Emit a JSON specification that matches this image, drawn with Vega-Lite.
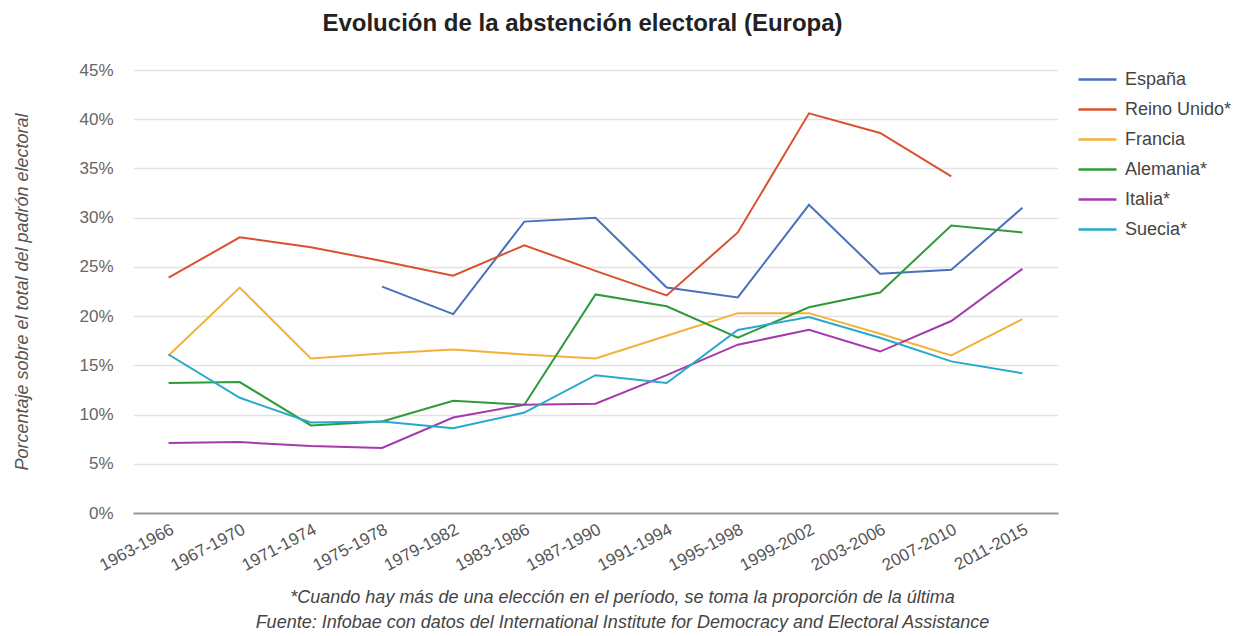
{
  "$schema": "https://vega.github.io/schema/vega-lite/v6.json",
  "autosize": "none",
  "width": 925,
  "height": 443,
  "padding": {"left": 133, "top": 70, "right": 190, "bottom": 123},
  "background": "white",
  "title": {
    "text": "Evolución de la abstención electoral (Europa)",
    "fontSize": 24,
    "fontWeight": "bold",
    "font": "Liberation Sans",
    "color": "#222222",
    "anchor": "middle",
    "dx": -13,
    "offset": 23
  },
  "data": {
    "values": [
      {"periodo": "1975-1978", "pais": "España", "valor": 23.0},
      {"periodo": "1979-1982", "pais": "España", "valor": 20.2},
      {"periodo": "1983-1986", "pais": "España", "valor": 29.6},
      {"periodo": "1987-1990", "pais": "España", "valor": 30.0},
      {"periodo": "1991-1994", "pais": "España", "valor": 22.9},
      {"periodo": "1995-1998", "pais": "España", "valor": 21.9},
      {"periodo": "1999-2002", "pais": "España", "valor": 31.3},
      {"periodo": "2003-2006", "pais": "España", "valor": 24.3},
      {"periodo": "2007-2010", "pais": "España", "valor": 24.7},
      {"periodo": "2011-2015", "pais": "España", "valor": 31.0},

      {"periodo": "1963-1966", "pais": "Reino Unido*", "valor": 23.9},
      {"periodo": "1967-1970", "pais": "Reino Unido*", "valor": 28.0},
      {"periodo": "1971-1974", "pais": "Reino Unido*", "valor": 27.0},
      {"periodo": "1975-1978", "pais": "Reino Unido*", "valor": 25.6},
      {"periodo": "1979-1982", "pais": "Reino Unido*", "valor": 24.1},
      {"periodo": "1983-1986", "pais": "Reino Unido*", "valor": 27.2},
      {"periodo": "1987-1990", "pais": "Reino Unido*", "valor": 24.6},
      {"periodo": "1991-1994", "pais": "Reino Unido*", "valor": 22.1},
      {"periodo": "1995-1998", "pais": "Reino Unido*", "valor": 28.5},
      {"periodo": "1999-2002", "pais": "Reino Unido*", "valor": 40.6},
      {"periodo": "2003-2006", "pais": "Reino Unido*", "valor": 38.6},
      {"periodo": "2007-2010", "pais": "Reino Unido*", "valor": 34.2},

      {"periodo": "1963-1966", "pais": "Francia", "valor": 16.0},
      {"periodo": "1967-1970", "pais": "Francia", "valor": 22.9},
      {"periodo": "1971-1974", "pais": "Francia", "valor": 15.7},
      {"periodo": "1975-1978", "pais": "Francia", "valor": 16.2},
      {"periodo": "1979-1982", "pais": "Francia", "valor": 16.6},
      {"periodo": "1983-1986", "pais": "Francia", "valor": 16.1},
      {"periodo": "1987-1990", "pais": "Francia", "valor": 15.7},
      {"periodo": "1991-1994", "pais": "Francia", "valor": 18.0},
      {"periodo": "1995-1998", "pais": "Francia", "valor": 20.3},
      {"periodo": "1999-2002", "pais": "Francia", "valor": 20.3},
      {"periodo": "2003-2006", "pais": "Francia", "valor": 18.2},
      {"periodo": "2007-2010", "pais": "Francia", "valor": 16.0},
      {"periodo": "2011-2015", "pais": "Francia", "valor": 19.7},

      {"periodo": "1963-1966", "pais": "Alemania*", "valor": 13.2},
      {"periodo": "1967-1970", "pais": "Alemania*", "valor": 13.3},
      {"periodo": "1971-1974", "pais": "Alemania*", "valor": 8.9},
      {"periodo": "1975-1978", "pais": "Alemania*", "valor": 9.3},
      {"periodo": "1979-1982", "pais": "Alemania*", "valor": 11.4},
      {"periodo": "1983-1986", "pais": "Alemania*", "valor": 11.0},
      {"periodo": "1987-1990", "pais": "Alemania*", "valor": 22.2},
      {"periodo": "1991-1994", "pais": "Alemania*", "valor": 21.0},
      {"periodo": "1995-1998", "pais": "Alemania*", "valor": 17.8},
      {"periodo": "1999-2002", "pais": "Alemania*", "valor": 20.9},
      {"periodo": "2003-2006", "pais": "Alemania*", "valor": 22.4},
      {"periodo": "2007-2010", "pais": "Alemania*", "valor": 29.2},
      {"periodo": "2011-2015", "pais": "Alemania*", "valor": 28.5},

      {"periodo": "1963-1966", "pais": "Italia*", "valor": 7.1},
      {"periodo": "1967-1970", "pais": "Italia*", "valor": 7.2},
      {"periodo": "1971-1974", "pais": "Italia*", "valor": 6.8},
      {"periodo": "1975-1978", "pais": "Italia*", "valor": 6.6},
      {"periodo": "1979-1982", "pais": "Italia*", "valor": 9.7},
      {"periodo": "1983-1986", "pais": "Italia*", "valor": 11.0},
      {"periodo": "1987-1990", "pais": "Italia*", "valor": 11.1},
      {"periodo": "1991-1994", "pais": "Italia*", "valor": 14.0},
      {"periodo": "1995-1998", "pais": "Italia*", "valor": 17.1},
      {"periodo": "1999-2002", "pais": "Italia*", "valor": 18.6},
      {"periodo": "2003-2006", "pais": "Italia*", "valor": 16.4},
      {"periodo": "2007-2010", "pais": "Italia*", "valor": 19.5},
      {"periodo": "2011-2015", "pais": "Italia*", "valor": 24.8},

      {"periodo": "1963-1966", "pais": "Suecia*", "valor": 16.1},
      {"periodo": "1967-1970", "pais": "Suecia*", "valor": 11.7},
      {"periodo": "1971-1974", "pais": "Suecia*", "valor": 9.2},
      {"periodo": "1975-1978", "pais": "Suecia*", "valor": 9.3},
      {"periodo": "1979-1982", "pais": "Suecia*", "valor": 8.6},
      {"periodo": "1983-1986", "pais": "Suecia*", "valor": 10.2},
      {"periodo": "1987-1990", "pais": "Suecia*", "valor": 14.0},
      {"periodo": "1991-1994", "pais": "Suecia*", "valor": 13.2},
      {"periodo": "1995-1998", "pais": "Suecia*", "valor": 18.6},
      {"periodo": "1999-2002", "pais": "Suecia*", "valor": 19.9},
      {"periodo": "2003-2006", "pais": "Suecia*", "valor": 17.8},
      {"periodo": "2007-2010", "pais": "Suecia*", "valor": 15.4},
      {"periodo": "2011-2015", "pais": "Suecia*", "valor": 14.2}
    ]
  },
  "mark": {"type": "line", "strokeWidth": 2},
  "encoding": {
    "x": {
      "field": "periodo",
      "type": "ordinal",
      "sort": ["1963-1966", "1967-1970", "1971-1974", "1975-1978", "1979-1982", "1983-1986", "1987-1990", "1991-1994", "1995-1998", "1999-2002", "2003-2006", "2007-2010", "2011-2015"],
      "scale": {"type": "point", "padding": 0.5},
      "axis": {
        "title": ["*Cuando hay más de una elección en el período, se toma la proporción de la última", "Fuente: Infobae con datos del  International Institute for Democracy and Electoral Assistance"],
        "titleFont": "Liberation Sans",
        "titleFontSize": 18,
        "titleFontStyle": "italic",
        "titleFontWeight": "normal",
        "titleColor": "#444444",
        "titleLineHeight": 25,
        "titleX": 489,
        "titleAnchor": "middle",
        "titlePadding": 15,
        "labelAngle": -28,
        "labelAlign": "right",
        "labelBaseline": "top",
        "labelFont": "Liberation Sans",
        "labelFontSize": 17,
        "labelColor": "#555555",
        "labelPadding": 8,
        "ticks": false,
        "grid": false,
        "domain": true,
        "domainColor": "#9a9a9a",
        "domainWidth": 2
      }
    },
    "y": {
      "field": "valor",
      "type": "quantitative",
      "scale": {"domain": [0, 45], "nice": false},
      "axis": {
        "title": "Porcentaje sobre el total del padrón electoral",
        "titleFont": "Liberation Sans",
        "titleFontSize": 18,
        "titleFontStyle": "italic",
        "titleFontWeight": "normal",
        "titleColor": "#555555",
        "titlePadding": 47,
        "values": [0, 5, 10, 15, 20, 25, 30, 35, 40, 45],
        "labelExpr": "datum.value + '%'",
        "labelFont": "Liberation Sans",
        "labelFontSize": 17,
        "labelColor": "#666666",
        "labelPadding": 20,
        "ticks": false,
        "domain": false,
        "grid": true,
        "gridColor": "#e3e3e3",
        "gridWidth": 1.5
      }
    },
    "color": {
      "field": "pais",
      "type": "nominal",
      "scale": {
        "domain": ["España", "Reino Unido*", "Francia", "Alemania*", "Italia*", "Suecia*"],
        "range": ["#4a6fbd", "#d9512f", "#f4b13a", "#2f9a3a", "#a43aac", "#25a9cc"]
      },
      "legend": {
        "title": null,
        "orient": "none",
        "legendX": 944,
        "legendY": -11,
        "symbolType": "stroke",
        "symbolSize": 1444,
        "symbolStrokeWidth": 2.5,
        "labelFont": "Liberation Sans",
        "labelFontSize": 18,
        "labelColor": "#444444",
        "labelOffset": 7,
        "rowPadding": -1
      }
    }
  },
  "config": {
    "view": {"stroke": null}
  }
}
